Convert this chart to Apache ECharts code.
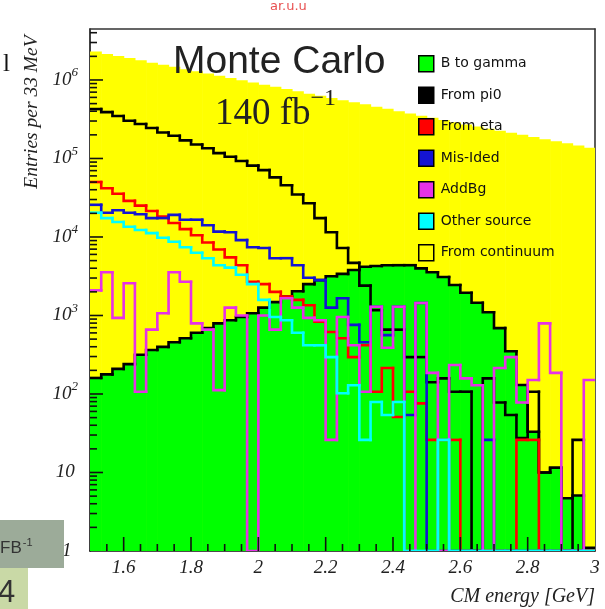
<!DOCTYPE html>
<html><head><meta charset="utf-8">
<script src="https://cdn.jsdelivr.net/npm/echarts@6/dist/echarts.min.js"></script>
<style>html,body{margin:0;padding:0;background:#fff;}#c{width:605px;height:609px;}</style>
</head><body><div id="c"></div>
<script>
// ---- binning: 45 bins of 33 MeV from 1.5 to 3.0 GeV ----
const binStart = 1.5, binCount = 45, binWidth = 1.5 / 45;
const binEdges = [];
for (let i = 0; i <= binCount; i++) binEdges.push(+(binStart + i * binWidth).toFixed(6));

// ---- series values (entries per bin) ----
const fromContinuum = [2300000, 2150000, 2020000, 1900000, 1780000, 1660000, 1560000, 1470000, 1370000, 1290000,
  1210000, 1130000, 1060000, 990000, 930000, 870000, 820000, 770000, 720000, 670000,
  630000, 590000, 550000, 520000, 490000, 455000, 430000, 400000, 375000, 350000,
  330000, 310000, 290000, 270000, 255000, 240000, 225000, 212000, 200000, 188000,
  176000, 166000, 156000, 146000, 137000];
const bToGamma = [160, 178, 209, 240, 316, 363, 398, 457, 513, 603,
  692, 794, 871, 955, 1070, 1260, 1480, 1740, 2040, 2510,
  2820, 3160, 3390, 3800, 4170, 4270, 4370, 4370, 4370, 3980,
  3550, 3090, 2450, 1950, 1450, 1100, 690, 350, 130, 33,
  10, 11.5, 4.7, 5.1, 0];
const fromPi0 = [426000, 389000, 347000, 302000, 275000, 245000, 214000, 195000, 170000, 151000,
  135000, 117000, 105000, 93000, 81000, 71000, 57500, 45700, 34700, 26900,
  17400, 11500, 7240, 4680, 2400, 1170, 660, 660, 295, 295,
  141, 158, 107, 107, 0, 158, 78, 54, 27.5, 107,
  10, 11.5, 0, 26, 1.1];
const fromEta = [50100, 41700, 35500, 28800, 25100, 21400, 18200, 15100, 12600, 10500,
  8510, 6920, 5500, 4370, 2690, 2510, 2000, 1740, 1580, 1350,
  832, 617, 513, 295, 417, 107, 214, 51, 107, 76,
  26, 26, 26, 0, 0, 0, 0, 0, 26, 26,
  0, 0, 0, 0, 0];
const misIded = [25700, 20400, 21900, 20400, 19500, 17400, 17400, 19100, 16600, 16600,
  14100, 11700, 11500, 9120, 7410, 7240, 5370, 5370, 4370, 3020,
  2820, 1260, 1660, 759, 457, 1290, 562, 1290, 54, 1445,
  0, 0, 0, 0, 0, 26, 0, 0, 0, 0,
  0, 0, 0, 0, 0];
const addBg = [2090, 3550, 933, 2570, 107, 660, 1070, 3550, 2690, 794,
  660, 112, 1260, 1000, 0, 1000, 660, 1660, 1260, 933,
  871, 26, 955, 417, 107, 1290, 389, 1290, 0, 1445,
  186, 0, 234, 158, 129, 0, 214, 295, 78, 151,
  794, 186, 0, 0, 151];
const otherSource = [20400, 17400, 15500, 13500, 12300, 11200, 9770, 8710, 7410, 6310,
  5370, 4370, 4070, 3310, 2510, 1580, 955, 871, 603, 417,
  417, 295, 102, 129, 26, 79, 54, 79, 0, 0,
  0, 26, 0, 0, 0, 0, 0, 0, 0, 0,
  0, 0, 0, 0, 0];

// ---- axes ----
const xMin = 1.5, xMax = 3.0, yMin = 1, yMax = 4.46e6;
const xLabelValues = [1.6, 1.8, 2.0, 2.2, 2.4, 2.6, 2.8, 3.0];
const legendNames = ['B to gamma', 'From pi0', 'From eta', 'Mis-Ided', 'AddBg', 'Other source', 'From continuum'];
const legendColors = ['#00ff00', '#000000', '#ff0000', '#1414d2', '#e632e6', '#00ffff', '#ffff00'];

const serif = '"Liberation Serif","Times New Roman",serif';

function fillSeries(name, values, color, z) {
  return {
    type: 'custom', name, z, clip: true, silent: true,
    encode: { x: [0, 1], y: 2 },
    data: values.map((v, i) => [binEdges[i], binEdges[i + 1], v > 0 ? v : yMin]),
    renderItem(params, api) {
      const v = api.value(2);
      if (!(v > yMin)) return null;
      const p0 = api.coord([api.value(0), yMin]);
      const p1 = api.coord([api.value(1), v]);
      return { type: 'rect', shape: { x: p0[0], y: p1[1], width: p1[0] - p0[0] + 0.6, height: p0[1] - p1[1] },
        style: { fill: color } };
    }
  };
}
function lineSeries(name, values, color, z, lw) {
  return {
    type: 'custom', name, z, clip: true, silent: true,
    encode: { x: [0, 1], y: [2, 3] },
    data: values.map((v, i) => {
      const cur = v > 0 ? v : yMin;
      const prev = i > 0 ? (values[i - 1] > 0 ? values[i - 1] : yMin) : cur;
      return [binEdges[i], binEdges[i + 1], cur, prev];
    }),
    renderItem(params, api) {
      const xl = api.value(0), xh = api.value(1), v = api.value(2), pv = api.value(3);
      const a = api.coord([xl, pv]), b = api.coord([xl, v]), c = api.coord([xh, v]);
      return { type: 'polyline', shape: { points: [a, b, c] },
        style: { stroke: color, lineWidth: lw, fill: null, lineJoin: 'miter', lineCap: 'square' } };
    }
  };
}

// ticks (ROOT style, inward): x every 0.05 (long at even tenths), y decades long, 2..9 short
const tickData = [];
for (let k = 31; k <= 59; k++) {
  const v = k / 20;
  const long = (k % 4 === 0);
  tickData.push([v, yMin, 0, long ? 14 : 7]);
}
for (let e = 1; e <= 6; e++) tickData.push([xMin, Math.pow(10, e), 1, 13]);
for (let e = 0; e <= 6; e++) for (let m = 2; m <= 9; m++) {
  const v = m * Math.pow(10, e);
  if (v < yMax) tickData.push([xMin, v, 1, 7]);
}

const chart = echarts.init(document.getElementById('c'), null, { renderer: 'canvas' });
chart.setOption({
  animation: false,
  backgroundColor: '#ffffff',
  grid: { left: 90, right: 10, top: 29, bottom: 58, containLabel: false, outerBoundsMode: 'none' },
  xAxis: [{
    type: 'value', min: xMin, max: xMax, interval: 0.1,
    axisLine: { show: true, onZero: false, lineStyle: { color: '#111', width: 1.6 } },
    axisTick: { show: false }, splitLine: { show: false },
    axisLabel: {
      margin: 7, fontFamily: serif, fontStyle: 'italic', fontSize: 19, color: '#222',
      showMinLabel: true, showMaxLabel: true, hideOverlap: false,
      formatter: (v) => {
        const k = Math.round(v * 10);
        if (!xLabelValues.some(x => Math.round(x * 10) === k)) return '';
        return k % 10 === 0 ? String(k / 10) : (k / 10).toFixed(1);
      }
    }
  }, {
    type: 'value', position: 'top', min: xMin, max: xMax,
    axisLine: { show: true, onZero: false, lineStyle: { color: '#333', width: 1.6 } },
    axisTick: { show: false }, axisLabel: { show: false }, splitLine: { show: false }
  }],
  yAxis: [{
    type: 'log', logBase: 10, min: yMin, max: yMax, splitNumber: 7,
    axisLine: { show: true, onZero: false, lineStyle: { color: '#111', width: 1.6 } },
    axisTick: { show: false }, splitLine: { show: false }, minorTick: { show: false },
    axisLabel: {
      margin: 12, showMinLabel: true, showMaxLabel: false, hideOverlap: false,
      formatter: (v) => {
        const lg = Math.log10(v), e = Math.round(lg);
        if (Math.abs(lg - e) > 1e-6) return '';
        if (e === 0) return '{b|1}{sp|  }';
        if (e === 1) return '{b|10}{sp| }';
        return '{b|10}{s|' + e + '}';
      },
      rich: {
        b: { fontFamily: serif, fontStyle: 'italic', fontSize: 19, color: '#222' },
        s: { fontFamily: serif, fontStyle: 'italic', fontSize: 13, color: '#222', padding: [0, 0, 14, 0] },
        sp: { fontFamily: serif, fontSize: 13, color: '#222', padding: [0, 0, 14, 0] }
      }
    }
  }, {
    type: 'log', logBase: 10, min: yMin, max: yMax, position: 'right',
    axisLine: { show: true, onZero: false, lineStyle: { color: '#333', width: 1.6 } },
    axisTick: { show: false }, axisLabel: { show: false }, splitLine: { show: false }
  }],
  legend: {
    orient: 'vertical', left: 418, top: 55, z: 50, selectedMode: false,
    itemWidth: 15, itemHeight: 16, itemGap: 14, padding: 0,
    textStyle: { fontFamily: '"DejaVu Sans",sans-serif', fontSize: 14, color: '#111', padding: [0, 0, 0, 2] },
    data: legendNames.map((n, i) => ({ name: n, icon: 'rect',
      itemStyle: { color: legendColors[i], borderColor: '#000', borderWidth: 1.5 } }))
  },
  series: [
    fillSeries('From continuum', fromContinuum, '#ffff00', 1),
    fillSeries('B to gamma', bToGamma, '#00ff00', 2),
    lineSeries('B to gamma outline', bToGamma, '#000000', 3, 2.6),
    lineSeries('From pi0', fromPi0, '#000000', 4, 2.6),
    lineSeries('From eta', fromEta, '#ff0000', 5, 2.6),
    lineSeries('Mis-Ided', misIded, '#1414d2', 6, 2.6),
    lineSeries('AddBg', addBg, '#e632e6', 7, 2.6),
    lineSeries('Other source', otherSource, '#00ffff', 8, 2.6),
    {
      type: 'custom', name: 'ticks', z: 20, clip: false, silent: true,
      data: tickData,
      renderItem(params, api) {
        const p = api.coord([api.value(0), api.value(1)]);
        const len = api.value(3);
        const horiz = api.value(2) === 1;
        return { type: 'line', shape: horiz ? { x1: p[0], y1: p[1], x2: p[0] + len, y2: p[1] }
                                             : { x1: p[0], y1: p[1], x2: p[0], y2: p[1] - len },
          style: { stroke: '#111', lineWidth: 1.6 } };
      }
    }
  ],
  graphic: [
    { type: 'text', z: 100, x: 173, y: 62, style: { text: 'Monte Carlo', fontFamily: '"Liberation Sans",Arial,sans-serif',
      fontSize: 39, fill: '#222', verticalAlign: 'middle', align: 'left' } },
    { type: 'text', z: 100, x: 215, y: 114.5, style: { text: '{a|140 fb}{s|\u22121}', verticalAlign: 'middle', align: 'left',
      rich: { a: { fontFamily: serif, fontSize: 37, fill: '#222' },
              s: { fontFamily: serif, fontSize: 24, fill: '#222', padding: [0, 0, 32, 0] } } } },
    { type: 'text', z: 100, x: 32, y: 112, rotation: Math.PI / 2, style: { text: 'Entries per 33 MeV', fontFamily: serif,
      fontStyle: 'italic', fontSize: 19.5, fill: '#222', align: 'center', verticalAlign: 'middle' } },
    { type: 'text', z: 100, x: 595, y: 597, style: { text: 'CM energy [GeV]', fontFamily: serif,
      fontStyle: 'italic', fontSize: 20, fill: '#222', align: 'right', verticalAlign: 'middle' } },
    { type: 'text', z: 100, x: 3, y: 64, style: { text: 'l', fontFamily: serif, fontSize: 25, fill: '#111', verticalAlign: 'middle' } },
    { type: 'text', z: 100, x: 270, y: 13, style: { text: 'ar.u.u', fontFamily: '"DejaVu Sans",sans-serif',
      fontSize: 13, fill: '#e85050', verticalAlign: 'bottom' } },
    { type: 'rect', z: 100, shape: { x: 0, y: 520, width: 64, height: 48 }, style: { fill: '#9cab99' } },
    { type: 'text', z: 101, x: 0, y: 548, style: { text: '{a|FB}{s|-1}', verticalAlign: 'middle',
      rich: { a: { fontFamily: '"Liberation Sans",Arial,sans-serif', fontSize: 17, fill: '#333' },
              s: { fontFamily: '"Liberation Sans",Arial,sans-serif', fontSize: 11, fill: '#333', padding: [0, 0, 10, 1] } } } },
    { type: 'rect', z: 100, shape: { x: 0, y: 568, width: 28, height: 41 }, style: { fill: '#c9d9a6' } },
    { type: 'text', z: 101, x: -2, y: 593, style: { text: '4', fontFamily: '"Liberation Sans",Arial,sans-serif',
      fontSize: 31, fill: '#333', verticalAlign: 'middle' } }
  ]
});
</script>
</body></html>
